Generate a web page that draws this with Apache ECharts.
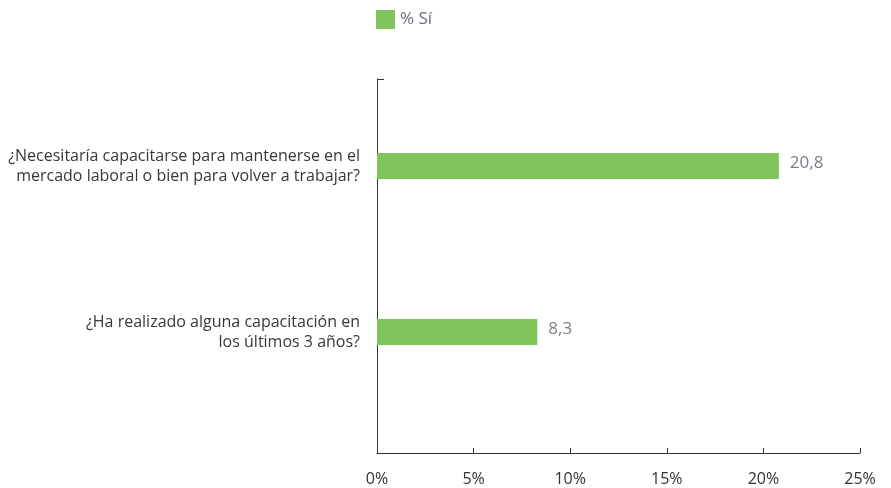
<!DOCTYPE html>
<html>
<head>
<meta charset="utf-8">
<script src="https://cdn.jsdelivr.net/npm/echarts@6/dist/echarts.min.js"></script>
<style>
  html, body { margin: 0; padding: 0; background: #fff; }
  #chart { width: 891px; height: 488px; }
</style>
</head>
<body>
<div id="chart"></div>
<script>
// Survey questions (top to bottom) and share answering "Sí"
const categories = [
  '¿Necesitaría capacitarse para mantenerse en el\nmercado laboral o bien para volver a trabajar?',
  '¿Ha realizado alguna capacitación en\nlos últimos 3 años?'
];
const seriesName = '% Sí';
const valuesSi = [20.8, 8.3];
const xTicks = [0, 5, 10, 15, 20, 25];

const FONT = '"Open Sans", Roboto, sans-serif';
const AXIS_COLOR = '#333';
// Frame grid: holds the visible axes; bar grid: same horizontal span, bands for the bars
const FRAME = { left: 377, right: 31, top: 79, bottom: 35 };
const BARS = { left: 377, right: 31, top: 83, bottom: 73 };

const xRange = {
  type: 'value',
  min: xTicks[0],
  max: xTicks[xTicks.length - 1],
  interval: xTicks[1] - xTicks[0],
  splitLine: { show: false }
};

const chart = echarts.init(document.getElementById('chart'), null, { renderer: 'canvas' });
chart.setOption({
  backgroundColor: '#ffffff',
  animation: false,
  legend: {
    data: [seriesName],
    left: 371,
    top: 5,
    itemWidth: 19,
    itemHeight: 19,
    itemGap: 4,
    icon: 'rect',
    textStyle: { fontFamily: FONT, fontSize: 17, color: '#6b7079' }
  },
  grid: [
    Object.assign({ containLabel: false }, FRAME),
    Object.assign({ containLabel: false }, BARS)
  ],
  xAxis: [
    Object.assign({}, xRange, {
      gridIndex: 0,
      axisLine: { show: true, lineStyle: { color: AXIS_COLOR, width: 1 } },
      axisTick: { show: true, inside: true, length: 5, lineStyle: { color: AXIS_COLOR } },
      axisLabel: {
        margin: 18,
        fontFamily: FONT,
        fontSize: 16,
        color: '#333',
        formatter: v => v + '%'
      }
    }),
    Object.assign({}, xRange, {
      gridIndex: 1,
      show: false
    })
  ],
  yAxis: [
    {
      gridIndex: 0,
      type: 'value',
      min: 0,
      max: 1,
      axisLine: { show: true, lineStyle: { color: AXIS_COLOR, width: 1 } },
      axisTick: { show: false },
      axisLabel: { show: false },
      splitLine: { show: false }
    },
    {
      gridIndex: 1,
      type: 'category',
      data: categories,
      inverse: true,
      axisLine: { show: false },
      axisTick: { show: false },
      splitLine: { show: false },
      axisLabel: {
        margin: 17,
        align: 'right',
        fontFamily: FONT,
        fontSize: 16,
        lineHeight: 20,
        color: '#383838'
      }
    }
  ],
  graphic: [{
    type: 'line',
    shape: { x1: FRAME.left, y1: FRAME.top + 0.5, x2: FRAME.left + 7, y2: FRAME.top + 0.5 },
    style: { stroke: AXIS_COLOR, lineWidth: 1 }
  }],
  series: [{
    name: seriesName,
    type: 'bar',
    xAxisIndex: 1,
    yAxisIndex: 1,
    data: valuesSi,
    barWidth: 26,
    itemStyle: { color: '#80c45c' },
    label: {
      show: true,
      position: 'right',
      distance: 11,
      offset: [0, -3],
      fontFamily: FONT,
      fontSize: 17,
      color: '#7a808a',
      formatter: p => p.value.toFixed(1).replace('.', ',')
    }
  }]
});
</script>
</body>
</html>
